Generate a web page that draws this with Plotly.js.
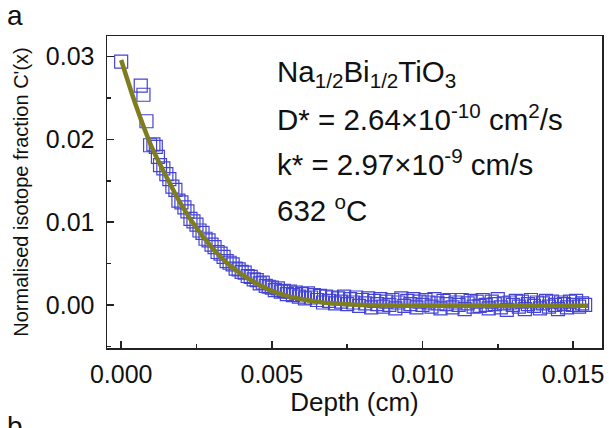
<!DOCTYPE html>
<html>
<head>
<meta charset="utf-8">
<script src="https://cdn.plot.ly/plotly-3.0.1.min.js"></script>
<style>html,body{margin:0;padding:0;background:#fff;}#chart{width:609px;height:428px;}</style>
</head>
<body>
<div id="chart"></div>
<script>
// Measured profile: depth (cm) and normalised isotope fraction C'(x)
const depth = [0, 0.00065, 0.00074, 0.00084, 0.00096, 0.00107, 0.00115, 0.00122, 0.00129,
  0.0014, 0.0015, 0.0016, 0.0017, 0.0018, 0.0019, 0.0020, 0.0021, 0.0022, 0.0023, 0.0024,
  0.0025, 0.0026, 0.0027, 0.0028, 0.0029, 0.0030, 0.0031, 0.0032, 0.0033, 0.0034,
  0.0035, 0.0036, 0.0037, 0.0038, 0.0039, 0.0040, 0.0041, 0.0042, 0.0043, 0.0044,
  0.0045, 0.0046, 0.0047, 0.0048, 0.0049, 0.0050, 0.0051, 0.0052, 0.0053, 0.0054,
  0.0055, 0.0056, 0.0057, 0.0058, 0.0059, 0.0060, 0.0061, 0.0062, 0.0063, 0.0064,
  0.0065, 0.0066, 0.0067, 0.0068, 0.0069, 0.0070, 0.0071, 0.0072, 0.0073, 0.0074,
  0.0075, 0.0076, 0.0077, 0.0078, 0.0079, 0.0080, 0.0081, 0.0082, 0.0083, 0.0084,
  0.0085, 0.0086, 0.0087, 0.0088, 0.0089, 0.0090, 0.0091, 0.0092, 0.0093, 0.0094,
  0.0095, 0.0096, 0.0097, 0.0098, 0.0099, 0.0100, 0.0101, 0.0102, 0.0103, 0.0104,
  0.0105, 0.0106, 0.0107, 0.0108, 0.0109, 0.0110, 0.0111, 0.0112, 0.0113, 0.0114,
  0.0115, 0.0116, 0.0117, 0.0118, 0.0119, 0.0120, 0.0121, 0.0122, 0.0123, 0.0124,
  0.0125, 0.0126, 0.0127, 0.0128, 0.0129, 0.0130, 0.0131, 0.0132, 0.0133, 0.0134,
  0.0135, 0.0136, 0.0137, 0.0138, 0.0139, 0.0140, 0.0141, 0.0142, 0.0143, 0.0144,
  0.0145, 0.0146, 0.0147, 0.0148, 0.0149, 0.0150, 0.0151, 0.0152, 0.0153, 0.0154];
const fraction = [0.0294, 0.0265, 0.0254, 0.0222, 0.0193, 0.0194, 0.0191, 0.0179, 0.0169,
  0.0165, 0.0158, 0.0152, 0.0143, 0.0139, 0.0126, 0.0124, 0.0118, 0.0113, 0.0104, 0.0101,
  0.0097, 0.0090, 0.0087, 0.0080, 0.0078, 0.0073, 0.0070, 0.0064, 0.0062, 0.0058,
  0.0053, 0.0051, 0.0049, 0.0044, 0.0043, 0.0040, 0.0039, 0.0035, 0.0034, 0.0031,
  0.0030, 0.0026, 0.0027, 0.0023, 0.0022, 0.0021, 0.0018, 0.0020, 0.0016, 0.0017,
  0.0013, 0.0016, 0.0012, 0.0015, 0.0010, 0.0013, 0.0008, 0.0014, 0.0009, 0.0012,
  0.0006, 0.0011, 0.0003, 0.0010, 0.0005, 0.0009, 0.0002, 0.0008, 0.0004, 0.0010,
  0.0001, 0.0007, 0.0003, 0.0009, -0.0001, 0.0006, 0.0002, 0.0008, -0.0003, 0.0005,
  0.0001, 0.0007, -0.0002, 0.0004, 0.0000, 0.0006, -0.0004, 0.0003, 0.0008, -0.0001,
  0.0005, 0.0001, 0.0007, -0.0003, 0.0004, 0.0000, 0.0006, 0.0003, -0.0002, 0.0007,
  0.0002, -0.0004, 0.0005, 0.0001, 0.0006, -0.0003, 0.0003, 0.0000, 0.0006, -0.0005,
  0.0002, 0.0005, -0.0002, 0.0004, -0.0001, 0.0006, 0.0000, -0.0004, 0.0004, 0.0001,
  0.0007, -0.0003, 0.0002, -0.0006, 0.0003, 0.0000, 0.0005, -0.0002, 0.0004, -0.0005,
  0.0001, 0.0006, -0.0001, 0.0003, -0.0004, 0.0002, 0.0005, -0.0002, 0.0004, 0.0000,
  -0.0005, 0.0003, 0.0001, -0.0003, 0.0004, 0.0000, 0.0005, -0.0002, 0.0002, 0.0000];

// Fitted curve
const fitDepth = [0, 0.0005, 0.0010, 0.0015, 0.0020, 0.0025, 0.0030, 0.0035, 0.0040, 0.0045,
  0.0050, 0.0055, 0.0060, 0.0065, 0.0070, 0.0075, 0.0080, 0.0090, 0.0100, 0.0120, 0.0140, 0.0155];
const fitFraction = [0.0296, 0.0240, 0.0192, 0.0155, 0.0121, 0.0093, 0.0070, 0.0051, 0.0037, 0.0026,
  0.0017, 0.0011, 0.0007, 0.0004, 0.0002, 0.0001, 0.0000, -0.0001, -0.0001, -0.0001, -0.0001, -0.0001];

const xTicks = [0, 0.005, 0.010, 0.015];
const xTickText = ['0.000', '0.005', '0.010', '0.015'];
const yTicks = [0, 0.01, 0.02, 0.03];
const yTickText = ['0.00', '0.01', '0.02', '0.03'];

const infoLines = [
  'Na<sub>1/2</sub>Bi<sub>1/2</sub>TiO<sub>3</sub>',
  'D* = 2.64×10<sup>-10</sup> cm<sup>2</sup>/s',
  'k* = 2.97×10<sup>-9</sup> cm/s',
  '632 <sup>o</sup>C'
];
const infoY = [0.0280, 0.0226, 0.0172, 0.0116];

const FONT = 'Liberation Sans, Arial, sans-serif';

const traces = [
  {
    x: depth, y: fraction, type: 'scatter', mode: 'markers',
    marker: {symbol: 'square-open', size: 13, color: '#4444d4', line: {width: 1.2, color: '#4444d4'}},
    showlegend: false, hoverinfo: 'skip'
  },
  {
    x: fitDepth, y: fitFraction, type: 'scatter', mode: 'lines',
    line: {color: '#7e7e1e', width: 4.5, shape: 'spline', smoothing: 0.8},
    showlegend: false, hoverinfo: 'skip'
  }
];

const annotations = infoLines.map((t, i) => ({
  x: 0.0051, y: infoY[i], xref: 'x', yref: 'y', text: t, showarrow: false,
  xanchor: 'left', yanchor: 'middle', font: {family: FONT, size: 29.5, color: '#111'}
}));
annotations.push({x: -0.186, y: 1.067, xref: 'paper', yref: 'paper', text: 'a', showarrow: false,
  xanchor: 'center', yanchor: 'middle', font: {family: FONT, size: 28, color: '#111'}});
annotations.push({x: -0.186, y: -0.195, xref: 'paper', yref: 'paper', text: 'b', showarrow: false,
  xanchor: 'center', yanchor: 'top', font: {family: FONT, size: 28, color: '#111'}});

const layout = {
  width: 609, height: 428,
  margin: {l: 107, r: 7, t: 36, b: 80},
  paper_bgcolor: '#fff', plot_bgcolor: '#fff',
  font: {family: FONT, color: '#111'},
  xaxis: {
    range: [-0.00047, 0.01596], tickvals: xTicks, ticktext: xTickText,
    ticks: 'inside', ticklen: 7, tickwidth: 1.5, tickcolor: '#222',
    minor: {ticks: 'inside', ticklen: 4, tickwidth: 1.5, tickcolor: '#222', dtick: 0.0025, tick0: 0},
    showline: true, linecolor: '#222', linewidth: 1.5, mirror: true,
    showgrid: false, zeroline: false,
    tickfont: {family: FONT, size: 25, color: '#111'},
    ticklabelstandoff: 3,
    title: {text: 'Depth (cm)', font: {family: FONT, size: 26, color: '#111'}, standoff: 6}
  },
  yaxis: {
    range: [-0.0052, 0.0325], tickvals: yTicks, ticktext: yTickText,
    ticks: 'inside', ticklen: 7, tickwidth: 1.5, tickcolor: '#222',
    minor: {ticks: 'inside', ticklen: 4, tickwidth: 1.5, tickcolor: '#222', dtick: 0.005, tick0: 0},
    showline: true, linecolor: '#222', linewidth: 1.5, mirror: true,
    showgrid: false, zeroline: false,
    tickfont: {family: FONT, size: 25, color: '#111'},
    ticklabelstandoff: 6,
    title: {text: "Normalised isotope fraction C'(x)", font: {family: FONT, size: 20, color: '#111'}, standoff: 12}
  },
  annotations: annotations
};

Plotly.newPlot('chart', traces, layout, {staticPlot: true, displayModeBar: false});
</script>
</body>
</html>
